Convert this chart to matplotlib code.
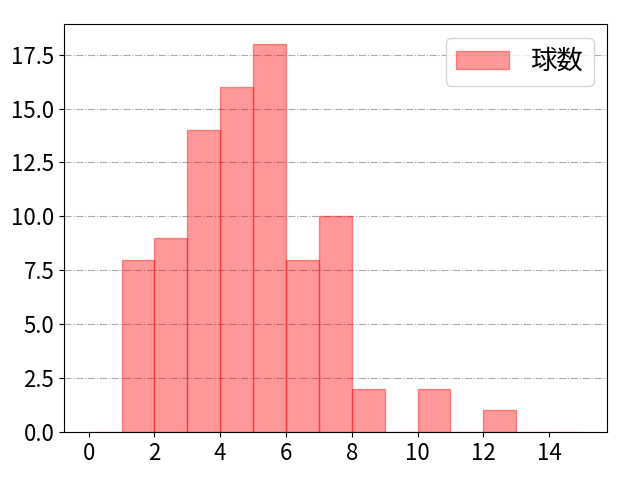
import matplotlib
matplotlib.use('Agg')
import matplotlib.pyplot as plt
import numpy as np

plt.rcParams['font.family'] = ['Noto Sans CJK JP', 'DejaVu Sans']

# bin edges and counts
bin_left = [0, 1, 2, 3, 4, 5, 6, 7, 8, 9, 10, 11, 12, 13, 14]
counts = [0, 8, 9, 14, 16, 18, 8, 10, 2, 0, 2, 0, 1, 0, 0]
label = '球数'

fig = plt.figure(figsize=(6.4, 4.8), dpi=100)
ax = fig.add_axes([0.1, 0.1, 0.848, 0.849])
ax.bar(bin_left, counts, width=1.0, align='edge', color='red', alpha=0.4,
       edgecolor='red', linewidth=1.0, label=label, zorder=2)
ax.set_xlim(-0.75, 15.75)
ax.set_ylim(0, 18.9)
ax.set_xticks(np.arange(0, 15, 2))
ax.set_yticks(np.arange(0, 18, 2.5))
ax.yaxis.grid(True, linestyle='-.', color='#aaaaaa', linewidth=0.8, zorder=0)
ax.set_axisbelow(True)
ax.tick_params(labelsize=16)
ax.legend(loc='upper right', fontsize=19)
fig.savefig('out.png', dpi=100)
